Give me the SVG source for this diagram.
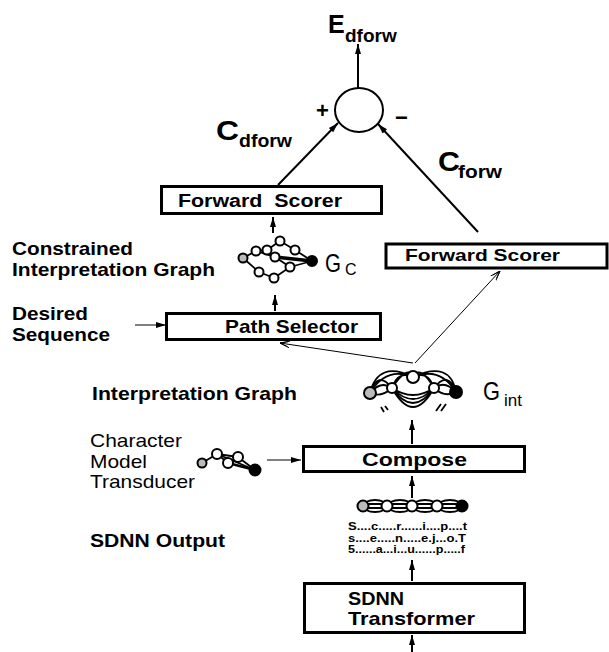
<svg xmlns="http://www.w3.org/2000/svg" width="609" height="652" viewBox="0 0 609 652">
<defs>
<style>
.b{font-family:"Liberation Sans",Arial,sans-serif;font-weight:bold;fill:#000}
.r{font-family:"Liberation Sans",Arial,sans-serif;fill:#000}
.box{fill:#fff;stroke:#000;stroke-width:3}
.ln{stroke:#000;stroke-width:2;fill:none}
.th{stroke:#000;stroke-width:1;fill:none}
.e{stroke:#000;stroke-width:1.8;fill:none}
.nw{fill:#fff;stroke:#000;stroke-width:2}
.ng{fill:#bbb;stroke:#000;stroke-width:2}
.nb{fill:#000;stroke:#000;stroke-width:2}
</style>
<marker id="a" markerWidth="10" markerHeight="8" refX="10" refY="4" orient="auto" markerUnits="userSpaceOnUse"><path d="M0,1 L10,4 L0,7 z" fill="#000"/></marker>
<marker id="o" markerWidth="10" markerHeight="8" refX="10" refY="4" orient="auto" markerUnits="userSpaceOnUse"><path d="M0,0.5 L10,4 L0,7.5 M2,1.5 L10,4 L2,6.5" fill="none" stroke="#000" stroke-width="0.9"/></marker>
</defs>

<g id="connectors">
<line class="ln" x1="358" y1="88" x2="358" y2="44" marker-end="url(#a)"/>
<line class="ln" x1="278" y1="185" x2="338" y2="123" marker-end="url(#a)"/>
<line class="ln" x1="478" y1="232" x2="378" y2="124" marker-end="url(#a)"/>
<line class="ln" x1="273" y1="233" x2="273" y2="217" marker-end="url(#a)"/>
<line class="ln" x1="275" y1="311" x2="275" y2="295" marker-end="url(#a)"/>
<line class="th" x1="135" y1="325" x2="166" y2="325" marker-end="url(#a)"/>
<line class="th" x1="413" y1="363" x2="280" y2="343" marker-end="url(#o)"/>
<line class="th" x1="415" y1="363" x2="500" y2="271" marker-end="url(#o)"/>
<line class="ln" x1="412" y1="444" x2="412" y2="420" marker-end="url(#a)"/>
<line class="th" x1="267" y1="460" x2="301" y2="460" marker-end="url(#a)"/>
<line class="ln" x1="412" y1="498" x2="412" y2="476" marker-end="url(#a)"/>
<line class="ln" x1="412" y1="581" x2="412" y2="560" marker-end="url(#a)"/>
<line class="ln" x1="412" y1="652" x2="412" y2="635" marker-end="url(#a)"/>
</g>

<g id="sum">
<ellipse cx="359" cy="110" rx="24" ry="22" fill="#fff" stroke="#000" stroke-width="2"/>
<text class="b" x="316" y="118" font-size="22">+</text>
<text class="b" x="395" y="125" font-size="22">−</text>
</g>

<g id="E-dforw">
<text class="b" x="328" y="33" font-size="25">E</text>
<text class="b" x="345" y="42" font-size="19">dforw</text>
</g>

<g id="C-dforw">
<text class="b" x="216" y="140" font-size="27" textLength="23" lengthAdjust="spacingAndGlyphs">C</text>
<text class="b" x="239" y="147" font-size="19" textLength="53" lengthAdjust="spacingAndGlyphs">dforw</text>
</g>

<g id="C-forw">
<text class="b" x="438" y="171" font-size="27" textLength="22" lengthAdjust="spacingAndGlyphs">C</text>
<text class="b" x="458" y="178" font-size="19" textLength="44" lengthAdjust="spacingAndGlyphs">forw</text>
</g>

<g id="forward-scorer-1">
<rect class="box" x="161.5" y="186.5" width="220" height="27"/>
<text class="b" x="178" y="207" font-size="18" textLength="164" lengthAdjust="spacingAndGlyphs" xml:space="preserve">Forward  Scorer</text>
</g>

<g id="forward-scorer-2">
<rect class="box" x="386" y="244" width="221" height="24" stroke-width="2"/>
<text class="b" x="405" y="261" font-size="17" textLength="155" lengthAdjust="spacingAndGlyphs">Forward Scorer</text>
</g>

<g id="constrained-label">
<text class="b" x="12" y="255" font-size="19" textLength="121" lengthAdjust="spacingAndGlyphs">Constrained</text>
<text class="b" x="12" y="276" font-size="19" textLength="203" lengthAdjust="spacingAndGlyphs">Interpretation Graph</text>
</g>

<g id="Gc-graph">
<line class="e" x1="243" y1="258" x2="256" y2="251"/>
<line class="e" x1="256" y1="251" x2="267" y2="250"/>
<line class="e" x1="267" y1="250" x2="280" y2="241"/>
<line class="e" x1="280" y1="241" x2="295" y2="250"/>
<line class="e" x1="295" y1="250" x2="312" y2="261"/>
<line class="e" x1="243" y1="258" x2="259" y2="272"/>
<line class="e" x1="259" y1="272" x2="274" y2="278"/>
<line class="e" x1="274" y1="278" x2="290" y2="267"/>
<line class="e" x1="290" y1="267" x2="312" y2="261"/>
<line class="e" x1="256" y1="251" x2="275" y2="257"/>
<line class="e" x1="275" y1="257" x2="290" y2="267"/>
<line x1="275" y1="257" x2="312" y2="261" stroke="#000" stroke-width="3.5"/>
<circle class="ng" cx="243" cy="258" r="4.5"/>
<circle class="nw" cx="256" cy="251" r="4.5"/>
<circle class="nw" cx="267" cy="250" r="4.5"/>
<circle class="nw" cx="280" cy="241" r="4.5"/>
<circle class="nw" cx="295" cy="250" r="4.5"/>
<circle class="nw" cx="275" cy="257" r="4.5"/>
<circle class="nw" cx="259" cy="272" r="4.5"/>
<circle class="nw" cx="274" cy="278" r="4.5"/>
<circle class="nw" cx="290" cy="267" r="4.5"/>
<circle class="nb" cx="312" cy="261" r="5"/>
</g>

<g id="Gc-label">
<text class="r" x="325" y="272" font-size="26" textLength="16" lengthAdjust="spacingAndGlyphs">G</text>
<text class="r" x="345" y="275" font-size="16">C</text>
</g>

<g id="desired-label">
<text class="b" x="12" y="320" font-size="19" textLength="76" lengthAdjust="spacingAndGlyphs">Desired</text>
<text class="b" x="12" y="341" font-size="19" textLength="98" lengthAdjust="spacingAndGlyphs">Sequence</text>
</g>

<g id="path-selector">
<rect class="box" x="166.5" y="313.5" width="214" height="26"/>
<text class="b" x="225" y="333" font-size="19" textLength="133" lengthAdjust="spacingAndGlyphs">Path Selector</text>
</g>

<g id="interp-label">
<text class="b" x="92" y="400" font-size="19" textLength="205" lengthAdjust="spacingAndGlyphs">Interpretation Graph</text>
</g>

<g id="Gint-graph">
<path class="e" d="M370,393 Q381,380 392,388 M370,393 Q378,370 392,388 M370,393 Q381,398 392,388"/>
<path class="e" d="M370,393 Q378,360 413,377 M370,393 Q386,366 413,377"/>
<path class="e" d="M392,388 Q398,370 413,377 M392,388 Q408,364 413,377"/>
<path class="e" d="M413,377 Q428,370 434,388 M413,377 Q420,364 434,388"/>
<path class="e" d="M413,377 Q450,360 456,392 M413,377 Q440,366 456,392"/>
<path class="e" d="M434,388 Q445,380 456,392 M434,388 Q448,370 456,392 M434,388 Q445,398 456,392"/>
<path class="e" d="M392,388 Q413,402 434,388 M392,388 Q413,410 434,388 M392,388 Q413,418 434,388 M392,388 Q413,426 434,388"/>
<path class="e" d="M381,407 L384,412 M385,406 L388,410"/>
<path class="e" d="M441,404 L436,411 M446,404 L441,411"/>
<circle class="ng" cx="370" cy="393" r="6"/>
<circle class="nw" cx="392" cy="388" r="5"/>
<circle class="nw" cx="413" cy="377" r="6"/>
<circle class="nw" cx="434" cy="388" r="5"/>
<circle class="nb" cx="456" cy="392" r="6"/>
</g>

<g id="Gint-label">
<text class="r" x="483" y="400" font-size="26" textLength="17" lengthAdjust="spacingAndGlyphs">G</text>
<text class="r" x="504" y="406" font-size="17">int</text>
</g>

<g id="char-label">
<text class="r" x="90" y="447" font-size="19" textLength="92" lengthAdjust="spacingAndGlyphs">Character</text>
<text class="r" x="90" y="468" font-size="19" textLength="57" lengthAdjust="spacingAndGlyphs">Model</text>
<text class="r" x="90" y="488" font-size="19" textLength="105" lengthAdjust="spacingAndGlyphs">Transducer</text>
</g>

<g id="char-graph">
<line class="e" x1="202" y1="463" x2="217" y2="454"/>
<line class="e" x1="217" y1="454" x2="238" y2="457"/>
<line class="e" x1="217" y1="454" x2="228" y2="463"/>
<line class="e" x1="228" y1="463" x2="238" y2="457"/>
<line x1="228" y1="463" x2="255" y2="470" stroke="#000" stroke-width="2.5"/>
<line class="e" x1="238" y1="457" x2="255" y2="470"/>
<line class="e" x1="217" y1="454" x2="255" y2="470"/>
<circle class="ng" cx="202" cy="463" r="4.5"/>
<circle class="nw" cx="217" cy="454" r="5"/>
<circle class="nw" cx="228" cy="463" r="5"/>
<circle class="nw" cx="238" cy="457" r="5"/>
<circle class="nb" cx="255" cy="470" r="5.5"/>
</g>

<g id="compose">
<rect class="box" x="303.5" y="446.5" width="221" height="25"/>
<text class="b" x="362" y="466" font-size="19" textLength="105" lengthAdjust="spacingAndGlyphs">Compose</text>
</g>

<g id="sdnn-graph">
<ellipse class="e" cx="375" cy="506" rx="12" ry="6"/>
<ellipse class="e" cx="400" cy="506" rx="12.5" ry="6"/>
<ellipse class="e" cx="425" cy="506" rx="12.5" ry="6"/>
<ellipse class="e" cx="450" cy="506" rx="12.5" ry="6"/>
<path class="e" d="M364,504 L386,504 M364,508 L386,508 M388,504 L411,504 M388,508 L411,508 M413,504 L436,504 M413,508 L436,508 M438,504 L461,504 M438,508 L461,508" stroke-width="1.3"/>
<circle class="ng" cx="363" cy="506" r="5.5"/>
<circle class="nw" cx="387" cy="506" r="5.5"/>
<circle class="nw" cx="412" cy="506" r="5.5"/>
<circle class="nw" cx="437" cy="506" r="5.5"/>
<circle class="nb" cx="462" cy="506" r="5.5"/>
</g>

<g id="sdnn-text">
<text class="b" x="348" y="530" font-size="11" textLength="119" lengthAdjust="spacingAndGlyphs">S....c.....r......i....p....t</text>
<text class="b" x="348" y="542" font-size="11" textLength="118" lengthAdjust="spacingAndGlyphs">s....e.....n.....e.j...o.T</text>
<text class="b" x="348" y="553" font-size="11" textLength="117" lengthAdjust="spacingAndGlyphs">5......a...i...u......p.....f</text>
</g>

<g id="sdnn-output-label">
<text class="b" x="90" y="547" font-size="19" textLength="135" lengthAdjust="spacingAndGlyphs">SDNN Output</text>
</g>

<g id="sdnn-transformer">
<rect class="box" x="304.5" y="583.5" width="220" height="49"/>
<text class="b" x="348" y="605" font-size="19" textLength="56" lengthAdjust="spacingAndGlyphs">SDNN</text>
<text class="b" x="348" y="625" font-size="19" textLength="127" lengthAdjust="spacingAndGlyphs">Transformer</text>
</g>
</svg>
